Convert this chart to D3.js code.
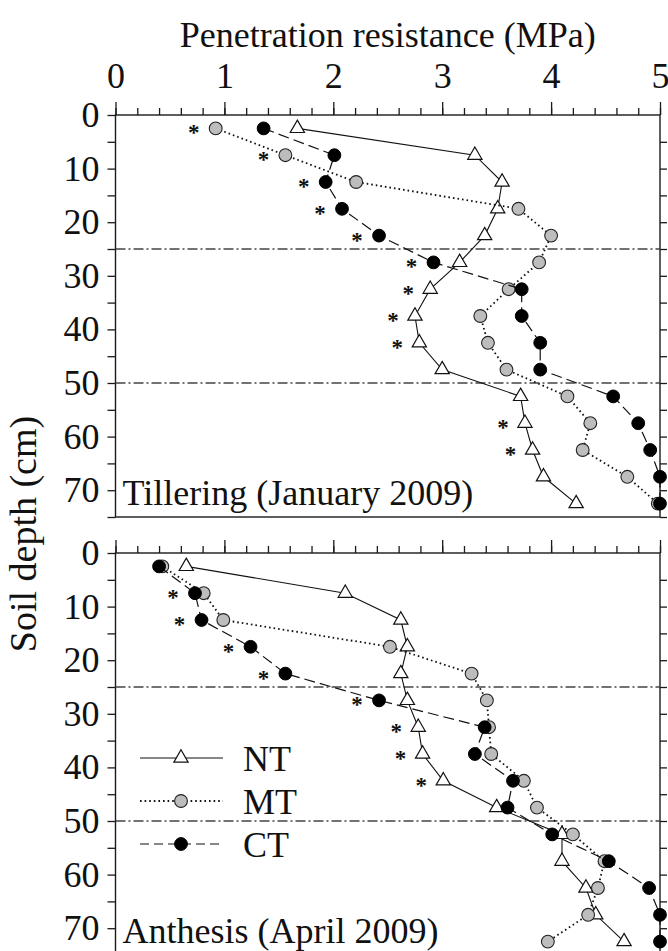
<!DOCTYPE html>
<html>
<head>
<meta charset="utf-8">
<script src="https://cdn.jsdelivr.net/npm/d3@7"></script>
<style>
  html, body { margin: 0; padding: 0; background: #fff; }
  svg { display: block; }
  text { font-family: "Liberation Serif", "Times New Roman", serif; fill: #111; }
</style>
</head>
<body>
<script>
// Sampling depths (cm), midpoints of 5 cm layers
const depths = [2.5, 7.5, 12.5, 17.5, 22.5, 27.5, 32.5, 37.5, 42.5, 47.5, 52.5, 57.5, 62.5, 67.5, 72.5];

// Penetration resistance (MPa) at tillering, January 2009
const tilleringNT = [1.67, 3.30, 3.55, 3.51, 3.39, 3.16, 2.89, 2.75, 2.79, 3.00, 3.72, 3.76, 3.83, 3.93, 4.23];
const tilleringMT = [0.92, 1.56, 2.21, 3.70, 4.00, 3.89, 3.61, 3.35, 3.42, 3.59, 4.15, 4.36, 4.29, 4.70, 4.98];
const tilleringCT = [1.36, 2.01, 1.93, 2.08, 2.42, 2.92, 3.73, 3.73, 3.90, 3.90, 4.57, 4.80, 4.91, 5.00, 5.00];
// Layers with a significant difference between tillage systems
const tilleringSig = [1, 1, 1, 1, 1, 1, 1, 1, 1, 0, 0, 1, 1, 0, 0];

// Penetration resistance (MPa) at anthesis, April 2009
const anthesisNT = [0.65, 2.11, 2.62, 2.68, 2.62, 2.68, 2.78, 2.82, 3.01, 3.50, 4.10, 4.10, 4.32, 4.41, 4.67];
const anthesisMT = [0.43, 0.81, 0.99, 2.52, 3.27, 3.41, 3.43, 3.45, 3.75, 3.87, 4.20, 4.49, 4.43, 4.34, 3.97];
const anthesisCT = [0.40, 0.73, 0.79, 1.24, 1.56, 2.42, 3.39, 3.30, 3.65, 3.60, 4.01, 4.53, 4.90, 5.00, 5.00];
const anthesisSig = [0, 1, 1, 1, 1, 1, 1, 1, 1, 0, 0, 0, 0, 0, 0];

const seriesNames = ["NT", "MT", "CT"];
const panelTitles = ["Tillering (January 2009)", "Anthesis (April 2009)"];
const xTickValues = [0, 1, 2, 3, 4, 5];
const yTickLabels = [0, 10, 20, 30, 40, 50, 60, 70];
const layerBoundaries = [25, 50];

const W = 668, H = 951;
const FONT = 36;

const svg = d3.select("body").append("svg").attr("width", W).attr("height", H);

const x = d3.scaleLinear().domain([0, 5]).range([115.5, 660]);
const panels = [
  { y: d3.scaleLinear().domain([0, 75]).range([115, 517]), title: panelTitles[0],
    NT: tilleringNT, MT: tilleringMT, CT: tilleringCT, sig: tilleringSig, labels: true, legend: false },
  { y: d3.scaleLinear().domain([0, 75]).range([553, 955]), title: panelTitles[1],
    NT: anthesisNT, MT: anthesisMT, CT: anthesisCT, sig: anthesisSig, labels: false, legend: true }
];

const styles = {
  NT: { dash: null, width: 1.1, marker: "tri" },
  MT: { dash: "1.6,3", width: 1.8, marker: "grey" },
  CT: { dash: "11,5", width: 1.2, marker: "black" }
};

function drawMarker(g, kind, cx, cy) {
  if (kind === "tri") {
    g.append("path")
      .attr("d", d3.symbol(d3.symbolTriangle, 88)())
      .attr("transform", `translate(${cx},${cy})`)
      .attr("fill", "#fff").attr("stroke", "#111").attr("stroke-width", 1.2);
  } else if (kind === "grey") {
    g.append("circle").attr("cx", cx).attr("cy", cy).attr("r", 6.4)
      .attr("fill", "#bdbdbd").attr("stroke", "#222").attr("stroke-width", 1.1);
  } else {
    g.append("circle").attr("cx", cx).attr("cy", cy).attr("r", 6.4)
      .attr("fill", "#000").attr("stroke", "#000").attr("stroke-width", 1);
  }
}

panels.forEach(p => {
  const g = svg.append("g");
  const [yTop, yBot] = p.y.range();

  // Frame
  g.append("rect").attr("x", x(0)).attr("y", yTop)
    .attr("width", x(5) - x(0)).attr("height", yBot - yTop)
    .attr("fill", "none").attr("stroke", "#1a1a1a").attr("stroke-width", 1.4);

  // Layer boundaries (dash-dot)
  layerBoundaries.forEach(d => {
    g.append("line").attr("x1", x(0)).attr("x2", x(5)).attr("y1", p.y(d)).attr("y2", p.y(d))
      .attr("stroke", "#444").attr("stroke-width", 1.4).attr("stroke-dasharray", "10,3,2,3");
  });

  // Top axis: minor ticks every 0.2 MPa, major ticks at integers
  const minorTop = g.append("g").attr("transform", `translate(0,${yTop})`)
    .call(d3.axisTop(x).tickValues(d3.range(0, 5.01, 0.2)).tickSize(7).tickSizeOuter(0).tickFormat(""));
  const majorTop = g.append("g").attr("transform", `translate(0,${yTop})`)
    .call(d3.axisTop(x).tickValues(xTickValues).tickSize(13).tickSizeOuter(0).tickPadding(14)
      .tickFormat(p.labels ? d3.format("d") : ""));
  [minorTop, majorTop].forEach(a => {
    a.select(".domain").remove();
    a.selectAll("line").attr("stroke", "#1a1a1a").attr("stroke-width", 1.3);
    a.selectAll("text").style("font-size", FONT + "px").style("font-family", "Liberation Serif, serif").attr("fill", "#111");
  });

  // Left axis
  const left = g.append("g").attr("transform", `translate(${x(0)},0)`)
    .call(d3.axisLeft(p.y).tickValues(d3.range(0, 75.01, 5)).tickSize(8).tickSizeOuter(0).tickPadding(8)
      .tickFormat(d => yTickLabels.includes(d) ? d : ""));
  left.select(".domain").remove();
  left.selectAll("line").attr("stroke", "#1a1a1a").attr("stroke-width", 1.3);
  left.selectAll("text").style("font-size", FONT + "px").style("font-family", "Liberation Serif, serif").attr("fill", "#111");

  // Right axis
  const right = g.append("g").attr("transform", `translate(${x(5)},0)`)
    .call(d3.axisRight(p.y).tickValues(d3.range(5, 75.01, 5)).tickSize(7).tickSizeOuter(0).tickFormat(""));
  right.select(".domain").remove();
  right.selectAll("line").attr("stroke", "#1a1a1a").attr("stroke-width", 1.3);

  // Series
  seriesNames.forEach(name => {
    const s = styles[name];
    const vals = p[name];
    const line = d3.line().x(d => x(d[0])).y(d => p.y(d[1]));
    g.append("path").datum(vals.map((v, i) => [v, depths[i]]))
      .attr("d", line).attr("fill", "none").attr("stroke", "#111")
      .attr("stroke-width", s.width).attr("stroke-dasharray", s.dash);
    vals.forEach((v, i) => drawMarker(g, s.marker, x(v), p.y(depths[i])));
  });

  // Significance asterisks, left of the lowest value in each layer
  p.sig.forEach((f, i) => {
    if (!f) return;
    const minVal = Math.min(p.NT[i], p.MT[i], p.CT[i]);
    g.append("text").attr("x", x(minVal) - 22).attr("y", p.y(depths[i]) + 12)
      .attr("text-anchor", "middle").attr("fill", "#000")
      .style("font-size", "23px").style("font-weight", "bold").text("*");
  });

  // Panel title
  g.append("text").attr("x", 122.5).attr("y", p.y(72.8)).style("font-size", FONT + "px").text(p.title);

  // Legend
  if (p.legend) {
    const rows = [758, 801, 844];
    seriesNames.forEach((name, i) => {
      const s = styles[name];
      g.append("line").attr("x1", 140).attr("x2", 223).attr("y1", rows[i]).attr("y2", rows[i])
        .attr("stroke", "#111").attr("stroke-width", s.width)
        .attr("stroke-dasharray", name === "CT" ? "9,5" : s.dash);
      drawMarker(g, s.marker, 181, rows[i]);
      g.append("text").attr("x", 243).attr("y", rows[i] + 12.5).style("font-size", FONT + "px").text(name);
    });
  }
});

// Axis titles
svg.append("text").attr("x", (x(0) + x(5)) / 2).attr("y", 47).attr("text-anchor", "middle")
  .style("font-size", FONT + "px").text("Penetration resistance (MPa)");
svg.append("text").attr("transform", "translate(36,534) rotate(-90)").attr("text-anchor", "middle")
  .style("font-size", "38px").text("Soil depth (cm)");
</script>
</body>
</html>
